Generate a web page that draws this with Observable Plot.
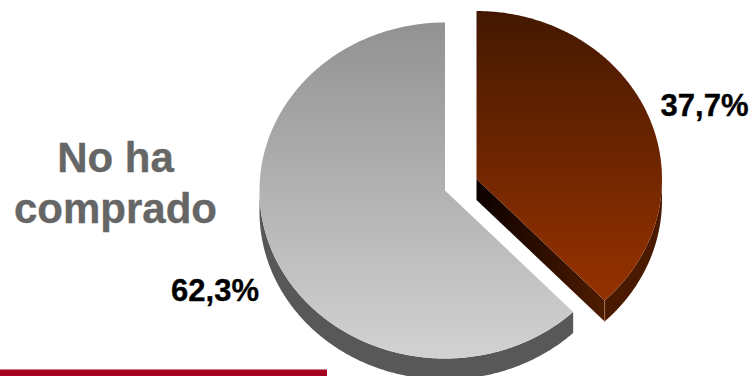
<!DOCTYPE html>
<html>
<head>
<meta charset="utf-8">
<script src="https://cdn.jsdelivr.net/npm/d3@7"></script>
<script src="https://cdn.jsdelivr.net/npm/@observablehq/plot@0.6"></script>
<style>html,body{margin:0;padding:0;background:#fff}svg{display:block}</style>
</head>
<body>
<script>
// Data
const sliceNames = ["Ha comprado", "No ha comprado"];
const shares = [37.7, 62.3];
const shareLabels = ["37,7%", "62,3%"];
const calloutLines = ["No ha", "comprado"];

// Layout in pie units: 1 unit = one pie radius, scales turn it into an ellipse
const W = 752, H = 376;
const cx = 444.5, cy = 190, rx = 185.5, ry = 168;
const U = px => (px - cx) / rx, V = px => (px - cy) / ry;
const depth = 21 / ry;
const explode = [31.5 / rx, -11.5 / ry];
const viewSkew = 0.01; // the 3D view turns the slice boundary slightly

const total = d3.sum(shares);
const split = shares[0] / total * 2 * Math.PI + viewSkew;   // clockwise from 12 o'clock
const pt = (a, ox = 0, oy = 0) => ({x: ox + Math.sin(a), y: oy - Math.cos(a)});
const arc = (a0, a1, ox = 0, oy = 0) =>
  d3.range(0, 1.00001, 1 / 240).map(t => pt(a0 + (a1 - a0) * t, ox, oy));

const [ex, ey] = explode;
const brownTop = [{x: ex, y: ey}, ...arc(0, split, ex, ey)];
const grayTop = [{x: 0, y: 0}, ...arc(split, 2 * Math.PI)];
const rim = (a0, a1, ox, oy) => [...arc(a0, a1, ox, oy), ...arc(a0, a1, ox, oy + depth).reverse()];
const grayRim = rim(split, 1.5 * Math.PI, 0, 0);
const brownRim = rim(Math.PI / 2, split, ex, ey);
const tip = pt(split, ex, ey);
const brownCut = [{x: ex, y: ey}, tip, {x: tip.x, y: tip.y + depth}, {x: ex, y: ey + depth}];
const tipEdge = [tip, {x: tip.x, y: tip.y + depth}];

const defs = () => {
  const s = d3.create("svg:defs");
  const grad = (id, stops, horizontal) => {
    const g = s.append("linearGradient").attr("id", id)
      .attr("x1", 0).attr("y1", 0).attr("x2", horizontal ? 1 : 0).attr("y2", horizontal ? 0 : 1);
    stops.forEach(([o, c]) => g.append("stop").attr("offset", o).attr("stop-color", c));
  };
  grad("grayFace", [[0, "#929292"], [1, "#d2d2d2"]]);
  grad("brownFace", [[0, "#431800"], [0.88, "#8e2f00"], [1, "#933000"]]);
  grad("brownCutFace", [[0, "#0c0000"], [1, "#4e1c00"]], true);
  return s.node();
};

const face = (pts, fill) => Plot.line(pts, {x: "x", y: "y", fill, stroke: "none", curve: "linear"});
const label = (t, x, y, size, fill) => Plot.text([t], {
  x: U(x), y: V(y), text: d => d, fontSize: size, fontWeight: "bold",
  fill, stroke: fill, strokeWidth: 0.35, textAnchor: "middle", lineAnchor: "bottom"
});

const chart = Plot.plot({
  width: W, height: H,
  margin: 0,
  x: {axis: null, domain: [U(0), U(W)], range: [0, W]},
  y: {axis: null, domain: [V(0), V(H)], range: [0, H]},
  style: {background: "#fff", fontFamily: "'Liberation Sans', Arial, sans-serif"},
  marks: [
    defs,
    face(grayRim, "#585858"),
    face(grayTop, "url(#grayFace)"),
    face(brownRim, "#4a1a00"),
    face(brownCut, "url(#brownCutFace)"),
    face(brownTop, "url(#brownFace)"),
    Plot.line(tipEdge, {x: "x", y: "y", stroke: "#b98a6e", strokeWidth: 0.6}),
    Plot.rect([sliceNames[0]], {x1: U(0), x2: U(327), y1: V(369.5), y2: V(376), fill: "#a50021"}),
    label(shareLabels[0], 704, 115, 31, "#000"),
    label(shareLabels[1], 214.5, 300, 31, "#000"),
    label(calloutLines[0], 115, 171, 42, "#666"),
    label(calloutLines[1], 115, 222, 42, "#666")
  ]
});
document.body.appendChild(chart);
</script>
</body>
</html>
